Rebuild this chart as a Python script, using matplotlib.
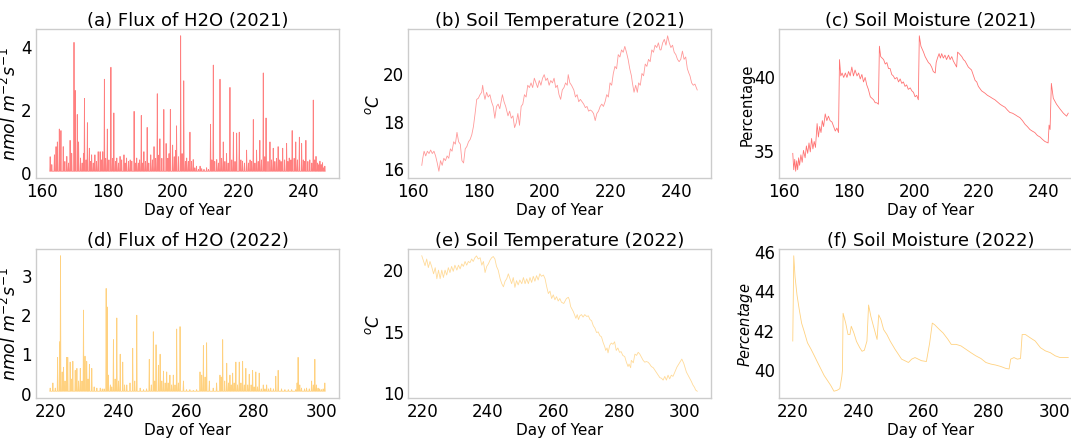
import numpy as np
import matplotlib
matplotlib.use("Agg")
import matplotlib.pyplot as plt

# ---------------- data ----------------
# (a) H2O flux 2021: spike days and peak values (nmol m-2 s-1)
flux21_day = [162.4, 162.9, 163.7, 164.2, 164.6, 165.2, 165.7, 166.4, 166.9, 167.5, 168.0, 168.5, 169.0,
              169.7, 170.1, 170.7, 171.1, 171.7, 172.2, 172.6, 172.9, 173.4, 173.8, 174.4, 174.8, 175.1,
              175.6, 176.1, 176.6, 177.1, 177.7, 178.1, 178.5, 179.0, 179.4, 179.9, 180.4, 181.0, 181.5,
              181.9, 182.4, 182.8, 183.3, 183.8, 184.3, 185.0, 185.4, 185.8, 186.4, 186.9, 187.4, 188.1,
              188.5, 188.9, 189.4, 189.8, 190.3, 190.7, 191.1, 191.6, 192.1, 192.6, 193.2, 193.7, 194.2,
              194.7, 195.2, 195.6, 196.0, 196.6, 197.2, 197.9, 198.4, 198.8, 199.2, 199.9, 200.4, 200.8,
              201.1, 201.7, 202.35, 202.8, 203.3, 203.8, 204.2, 204.7, 205.2, 205.7, 206.2, 206.7, 207.2,
              207.8, 208.3, 208.8, 209.5, 210.3, 210.9, 211.5, 211.9, 212.35, 212.8, 213.4, 213.9, 214.4,
              214.9, 215.4, 215.9, 216.4, 216.9, 217.45, 218.0, 218.5, 219.0, 219.5, 220.3, 220.8, 221.3,
              221.9, 222.55, 223.1, 223.6, 224.1, 224.6, 225.1, 225.6, 226.1, 226.6, 227.1, 227.65, 228.1,
              228.5, 229.1, 229.7, 230.2, 230.7, 231.2, 231.7, 232.2, 232.7, 233.1, 233.6, 234.2, 234.8,
              235.2, 235.6, 236.1, 236.5, 237.1, 237.6, 238.1, 238.7, 239.4, 239.9, 240.3, 240.7, 241.3,
              241.9, 242.5, 242.96, 243.4, 243.8, 244.3, 244.7, 245.0, 245.4, 245.8, 246.2, 246.5]
flux21_val = [0.50, 0.25, 0.56, 0.82, 0.97, 1.38, 1.33, 0.82, 0.35, 0.51, 0.30, 1.02, 0.61,
              4.13, 2.60, 1.84, 0.97, 0.46, 0.30, 0.61, 2.35, 0.40, 1.58, 0.77, 0.35, 0.56,
              0.30, 0.56, 0.35, 0.66, 0.66, 0.40, 0.66, 2.96, 0.45, 1.38, 0.40, 3.34, 0.45,
              1.89, 0.35, 0.46, 0.30, 0.51, 0.40, 0.56, 0.30, 0.46, 0.35, 0.40, 0.36, 1.94,
              0.30, 0.46, 0.30, 0.40, 1.81, 0.30, 0.66, 0.35, 1.43, 0.30, 0.56, 0.40, 0.82,
              0.45, 2.50, 0.55, 1.07, 0.45, 2.00, 0.92, 0.45, 0.60, 2.00, 0.87, 0.50, 0.70,
              1.48, 0.50, 4.34, 0.60, 2.91, 0.35, 0.46, 0.35, 1.28, 0.35, 0.41, 0.15, 0.20,
              0.10, 0.20, 0.12, 0.10, 0.15, 0.10, 1.53, 0.40, 3.41, 0.35, 0.41, 0.30, 2.96,
              0.45, 0.97, 0.35, 0.60, 0.30, 2.70, 0.40, 1.28, 0.35, 1.25, 1.28, 0.40, 0.36,
              0.30, 0.71, 0.30, 0.40, 0.35, 1.68, 0.30, 0.71, 0.35, 1.02, 0.40, 3.16, 0.50,
              1.73, 0.35, 0.97, 0.40, 0.77, 0.35, 0.45, 0.82, 0.40, 0.35, 0.77, 0.40, 0.92,
              0.35, 0.46, 0.40, 1.33, 0.45, 0.97, 0.40, 1.12, 0.92, 0.40, 0.35, 1.02, 0.35,
              0.40, 0.30, 2.30, 0.40, 0.51, 0.30, 0.25, 0.36, 0.25, 0.31, 0.15, 0.20]

# (d) H2O flux 2022
flux22_day = [219.8, 220.6, 221.3, 222.0, 222.6, 222.85, 223.35, 223.75, 224.2, 224.7, 225.0, 225.7,
              226.1, 226.5, 227.2, 227.7, 228.2, 228.7, 229.2, 229.65, 230.1, 230.6, 231.0, 231.4,
              232.1, 232.8, 233.6, 234.6, 235.2, 235.75, 236.35, 236.65, 237.0, 237.6, 238.0, 238.5,
              239.0, 239.5, 240.0, 240.5, 241.25, 241.8, 242.45, 243.4, 244.2, 244.8, 245.4, 246.4,
              247.4, 248.3, 249.1, 249.7, 250.3, 250.7, 251.1, 251.8, 252.3, 252.8, 253.3, 253.8,
              254.25, 254.7, 255.2, 255.7, 256.2, 256.7, 257.2, 257.7, 258.2, 259.2, 260.1, 261.1,
              262.1, 263.1, 264.1, 264.6, 265.1, 265.6, 266.05, 266.85, 268.0, 269.0, 270.0, 270.4,
              270.8, 271.4, 272.0, 272.5, 272.95, 273.35, 273.75, 274.2, 274.7, 275.2, 275.7, 276.2,
              276.7, 277.2, 277.65, 278.2, 278.65, 279.2, 279.65, 280.1, 280.6, 281.1, 281.6, 282.2,
              282.8, 283.3, 283.8, 284.4, 285.0, 285.8, 286.5, 287.2, 288.2, 289.2, 290.2, 291.2,
              292.4, 292.8, 293.1, 293.6, 294.1, 295.0, 295.6, 296.4, 297.1, 297.6, 298.05, 298.5,
              299.0, 299.5, 300.0, 300.5, 301.0]
flux22_val = [0.12, 0.25, 0.12, 0.90, 1.30, 3.48, 0.53, 0.65, 0.30, 0.90, 0.90, 0.78,
              0.35, 0.80, 0.57, 0.62, 0.30, 0.62, 0.30, 2.10, 0.93, 0.80, 0.35, 0.72,
              0.62, 0.15, 0.12, 0.12, 0.10, 0.10, 2.65, 2.18, 0.45, 0.20, 0.15, 1.35,
              0.35, 1.90, 0.30, 0.98, 0.78, 0.20, 0.20, 0.25, 1.13, 0.30, 1.97, 0.12,
              0.08, 0.10, 0.85, 0.20, 1.55, 0.30, 1.22, 0.70, 0.98, 0.30, 0.55, 0.25,
              0.53, 0.25, 0.45, 0.20, 0.45, 0.20, 1.62, 0.25, 1.68, 0.30, 0.08, 0.08,
              0.06, 0.08, 0.53, 0.45, 1.20, 0.40, 1.27, 0.30, 0.12, 0.25, 0.45, 0.40,
              1.35, 0.30, 0.75, 0.25, 0.45, 0.20, 0.50, 0.25, 0.78, 0.20, 0.78, 0.25,
              0.80, 0.20, 0.62, 0.20, 0.47, 0.20, 0.57, 0.15, 0.53, 0.15, 0.50, 0.10,
              0.20, 0.10, 0.20, 0.10, 0.12, 0.10, 0.42, 0.57, 0.10, 0.08, 0.08, 0.08,
              0.08, 0.25, 0.90, 0.20, 0.12, 0.10, 0.12, 0.10, 0.30, 0.20, 0.85, 0.20,
              0.12, 0.10, 0.08, 0.10, 0.25]

# (b) soil temperature 2021
temp21_day = [162.6, 162.9, 163.3, 163.8, 164.3, 164.8, 165.3, 165.8, 166.3, 166.8, 167.3, 167.8, 168.3,
              168.8, 169.3, 169.8, 170.3, 170.8, 171.3, 171.8, 172.3, 172.8, 173.3, 173.8, 174.3, 174.8,
              175.3, 175.8, 176.3, 176.8, 177.3, 177.8, 178.3, 178.8, 179.3, 179.8, 180.3, 180.8, 181.1,
              181.5, 181.8, 182.3, 182.8, 183.3, 183.8, 184.3, 184.8, 185.3, 185.8, 186.3, 187.1, 187.6,
              188.1, 188.8, 189.3, 189.8, 190.3, 190.8, 191.3, 191.8, 192.3, 192.8, 193.3, 193.8, 194.3,
              194.8, 195.3, 195.8, 196.3, 196.8, 197.3, 197.8, 198.3, 198.8, 199.3, 199.8, 200.3, 200.8,
              201.3, 201.8, 202.3, 202.8, 203.3, 203.8, 204.3, 204.8, 205.3, 205.8, 206.3, 206.8, 207.1,
              207.6, 208.1, 208.8, 209.3, 209.8, 210.3, 210.8, 211.3, 211.8, 212.3, 212.8, 213.3, 213.8,
              214.3, 214.8, 215.3, 215.8, 216.3, 216.8, 217.3, 217.8, 218.3, 218.8, 219.3, 219.8, 220.3,
              220.8, 221.3, 221.8, 222.3, 222.8, 223.3, 223.8, 224.3, 224.8, 225.3, 225.8, 226.3, 226.6,
              227.1, 227.6, 228.1, 228.5, 229.0, 229.5, 230.0, 230.5, 231.0, 231.5, 232.0, 232.5, 233.0,
              233.5, 234.0, 234.5, 235.0, 235.3, 235.8, 236.3, 236.8, 237.3, 237.8, 238.3, 238.8, 239.3,
              239.8, 240.3, 240.8, 241.3, 241.8, 242.3, 242.8, 243.3, 243.8, 244.1, 244.6, 245.1, 245.6,
              246.3]
temp21_val = [16.1, 16.4, 16.7, 16.5, 16.7, 16.6, 16.75, 16.6, 16.7, 16.5, 16.2, 15.85, 16.3,
              16.1, 16.4, 16.3, 16.5, 16.4, 16.8, 16.7, 17.1, 17.0, 17.5, 17.1, 17.0, 16.3,
              16.2, 16.8, 16.9, 17.1, 17.2, 17.4, 17.75, 18.3, 18.9, 18.95, 19.1, 19.2, 19.5,
              19.1, 18.9, 19.2, 19.0, 19.1, 18.8, 18.6, 18.1, 18.6, 18.7, 18.5, 19.1, 18.8,
              18.6, 18.2, 18.4, 18.1, 18.2, 17.7, 17.9, 18.3, 17.8, 18.6, 18.7, 19.1, 19.0,
              19.5, 19.4, 19.6, 19.4, 19.8, 19.6, 19.4, 19.7, 19.5, 19.8, 19.95, 19.7, 19.8,
              19.5, 19.7, 19.6, 19.8, 19.4, 19.5, 19.1, 18.9, 19.3, 19.4, 19.6, 19.5, 19.95,
              19.6, 19.5, 19.3, 19.0, 19.1, 18.8, 18.9, 18.8, 18.7, 18.55, 18.6, 18.4, 18.45,
              18.4, 18.3, 18.0, 18.3, 18.4, 18.6, 18.7, 18.6, 18.8, 19.1, 19.0, 19.6, 19.5,
              20.0, 20.3, 20.2, 20.8, 20.7, 21.0, 20.9, 21.15, 20.9, 20.6, 20.2, 19.9, 19.6,
              19.2, 19.5, 19.2, 19.6, 19.5, 20.0, 19.9, 20.4, 20.3, 20.6, 20.5, 21.0, 20.9,
              21.2, 21.1, 21.3, 21.0, 21.0, 21.3, 21.45, 21.2, 21.6, 21.3, 21.1, 21.2, 20.9,
              20.8, 20.6, 20.5, 20.6, 20.95, 20.6, 20.7, 20.2, 20.0, 19.9, 19.6, 19.5, 19.55,
              19.3]

# (c) soil moisture 2021
moist21_day = [162.6, 162.9, 163.2, 163.5, 163.8, 164.1, 164.4, 164.7, 165.1, 165.5, 165.9, 166.4, 166.8,
               167.2, 167.6, 168.0, 168.4, 168.8, 169.2, 169.6, 170.1, 170.5, 170.9, 171.3, 171.7, 172.1,
               172.6, 173.1, 173.6, 174.1, 174.7, 175.2, 175.7, 176.2, 176.7, 177.0, 177.4, 177.8, 178.3,
               178.8, 179.3, 179.8, 180.3, 180.8, 181.3, 181.8, 182.4, 182.9, 183.4, 183.9, 184.4, 184.9,
               185.4, 185.9, 186.5, 187.5, 188.0, 188.5, 189.0, 189.3, 189.7, 190.6, 191.1, 191.6, 192.1,
               192.6, 193.1, 193.6, 194.1, 194.7, 195.2, 195.7, 196.2, 196.7, 197.2, 197.7, 198.2, 198.8,
               199.3, 199.8, 200.3, 200.8, 201.3, 201.6, 202.1, 202.5, 202.9, 203.4, 203.9, 204.4, 204.9,
               205.4, 205.9, 206.5, 206.8, 207.2, 207.7, 208.1, 208.5, 209.0, 209.5, 210.0, 210.6, 211.1,
               211.6, 212.1, 212.6, 213.1, 213.4, 213.9, 214.7, 215.2, 215.7, 216.7, 217.7, 218.8, 219.3,
               219.8, 220.8, 221.8, 222.6, 223.4, 224.1, 224.9, 225.7, 226.5, 227.2, 228.0, 228.8, 229.5,
               230.3, 231.1, 231.8, 232.6, 233.4, 234.2, 234.9, 235.7, 236.4, 237.2, 238.0, 238.8, 239.5,
               240.3, 241.3, 241.6, 241.9, 242.3, 242.9, 243.9, 244.9, 246.0, 247.0, 247.5]
moist21_val = [34.8, 33.7, 34.4, 33.6, 34.3, 33.7, 34.5, 34.0, 34.7, 34.2, 35.0, 34.5, 35.3,
               34.8, 35.5, 34.9, 35.8, 35.1, 35.6, 35.2, 36.8, 35.9, 36.6, 36.2, 37.0, 36.6,
               37.45, 37.0, 37.3, 37.0, 36.9, 36.6, 36.3, 36.5, 36.2, 41.1, 40.0, 40.2, 39.9,
               40.2, 39.9, 40.3, 40.0, 40.6, 40.0, 40.4, 40.0, 40.2, 39.8, 40.1, 39.6, 39.9,
               39.4, 39.1, 38.6, 38.4, 38.2, 38.2, 38.1, 42.0, 41.3, 41.1, 40.8, 40.9, 40.5,
               40.5, 40.1, 40.0, 39.8, 39.9, 39.6, 39.8, 39.5, 39.6, 39.3, 39.4, 39.1, 39.2,
               39.0, 38.9, 38.6, 38.7, 38.4, 42.7, 42.0, 41.8, 41.6, 41.3, 41.1, 40.9, 40.8,
               40.6, 40.3, 40.2, 40.9, 41.2, 41.5, 41.2, 41.5, 41.2, 41.4, 41.1, 41.4, 41.1,
               41.3, 41.0, 40.8, 40.6, 41.6, 41.5, 41.3, 41.1, 41.0, 40.6, 40.4, 39.7, 39.6,
               39.3, 39.0, 38.85, 38.7, 38.6, 38.5, 38.4, 38.25, 38.1, 38.0, 37.9, 37.7, 37.55,
               37.5, 37.4, 37.3, 37.2, 37.0, 36.75, 36.6, 36.4, 36.3, 36.2, 36.0, 35.9, 35.75,
               35.6, 35.5, 36.7, 36.4, 39.5, 38.5, 38.1, 37.8, 37.5, 37.3, 37.5]

# (e) soil temperature 2022
temp22_day = [219.8, 220.3, 220.8, 221.3, 221.8, 222.3, 222.8, 223.4, 223.9, 224.4, 224.9, 225.4, 225.9,
              226.4, 226.9, 227.4, 227.9, 228.4, 228.9, 229.4, 229.9, 230.5, 231.0, 231.5, 232.0, 232.5,
              233.0, 233.5, 234.0, 234.5, 235.0, 235.5, 236.0, 236.5, 237.0, 237.6, 238.1, 238.6, 239.1,
              239.6, 240.1, 240.6, 241.1, 241.6, 242.1, 242.6, 243.1, 243.7, 244.2, 244.7, 245.2, 245.7,
              246.2, 246.7, 247.2, 247.7, 248.2, 248.7, 249.2, 249.7, 250.3, 250.8, 251.3, 251.8, 252.3,
              252.8, 253.3, 253.8, 254.3, 254.8, 255.3, 255.8, 256.3, 256.9, 257.4, 257.9, 258.4, 258.9,
              259.4, 259.9, 260.4, 260.9, 261.4, 261.9, 262.4, 263.1, 263.9, 264.5, 264.8, 265.2, 266.0,
              266.8, 267.2, 267.6, 268.0, 268.5, 269.0, 269.5, 270.1, 270.6, 271.1, 271.6, 272.1, 272.6,
              273.1, 273.6, 274.1, 274.6, 275.1, 275.6, 275.9, 276.3, 276.6, 277.1, 277.6, 278.1, 278.6,
              279.1, 279.6, 280.1, 280.6, 281.1, 281.7, 282.2, 282.7, 283.0, 283.5, 283.7, 284.3, 284.8,
              285.3, 285.8, 286.3, 286.8, 287.3, 287.8, 288.3, 288.8, 289.3, 289.8, 290.4, 290.9, 291.4,
              291.9, 292.4, 292.9, 293.4, 293.9, 294.4, 294.9, 295.4, 295.9, 296.4, 296.9, 297.6, 298.5,
              299.1, 299.7, 300.5, 301.0, 301.5, 302.0, 302.5, 303.0, 303.3, 303.8]
temp22_val = [21.06, 20.66, 20.26, 20.8, 20.1, 20.6, 20.2, 19.6, 20.1, 19.2, 19.9, 19.2, 19.9,
              19.3, 19.9, 19.5, 20.1, 19.7, 20.2, 19.8, 20.3, 19.9, 20.3, 20.0, 20.4, 20.2,
              20.6, 20.3, 20.6, 20.5, 20.8, 20.6, 20.9, 21.05, 20.8, 20.9, 20.3, 20.6, 19.7,
              20.2, 20.4, 20.7, 20.9, 21.0, 20.8, 20.2, 19.9, 19.2, 18.8, 18.55, 19.0, 19.2,
              19.6, 19.2, 18.8, 19.3, 18.5, 19.05, 18.7, 19.1, 18.8, 19.3, 18.8, 19.2, 18.8,
              19.3, 18.9, 19.4, 19.0, 19.45, 19.1, 19.6, 19.4, 19.5, 19.2, 18.55, 18.0, 18.2,
              17.6, 17.9, 17.5, 17.75, 17.4, 17.6, 17.3, 17.2, 17.6, 17.7, 17.5, 16.95, 16.55,
              16.0, 16.3, 15.9, 16.2, 16.3, 16.1, 16.3, 16.15, 16.2, 15.9, 15.8, 15.4, 15.2,
              14.85, 14.9, 14.6, 14.5, 14.05, 13.7, 13.4, 13.6, 13.2, 13.8, 14.0, 13.9, 14.1,
              13.4, 13.6, 13.25, 13.3, 13.0, 12.9, 12.45, 12.1, 12.3, 12.0, 12.6, 12.4, 13.1,
              13.0, 13.25, 13.1, 12.85, 12.6, 12.45, 12.5, 12.45, 12.3, 12.1, 12.0, 11.8, 11.6,
              11.4, 11.2, 11.15, 11.0, 11.3, 11.0, 11.4, 11.1, 11.4, 11.3, 11.6, 12.05, 12.45,
              12.7, 12.35, 11.65, 11.4, 11.15, 10.9, 10.6, 10.4, 10.2, 10.1]

# (f) soil moisture 2022
moist22_day = [220.0, 220.3, 220.7, 221.3, 222.0, 222.7, 223.5, 224.5, 225.6, 226.6, 227.6, 228.6, 229.6,
               230.6, 231.6, 232.6, 233.6, 234.4, 235.0, 235.2, 235.4, 236.2, 236.9, 237.5, 237.9, 238.7,
               239.5, 240.5, 241.2, 241.9, 242.7, 243.2, 243.9, 244.7, 245.8, 246.3, 247.0, 247.8, 248.8,
               249.8, 251.3, 252.3, 253.3, 254.3, 255.4, 256.4, 257.4, 258.4, 259.4, 260.9, 261.9, 262.7,
               263.4, 264.9, 266.0, 267.5, 268.5, 270.0, 271.5, 273.0, 274.5, 276.0, 277.6, 279.1, 280.6,
               282.1, 283.6, 285.2, 286.2, 286.7, 287.7, 288.7, 289.7, 290.2, 291.2, 292.7, 294.2, 295.8,
               297.3, 298.8, 300.3, 301.8, 303.3, 304.3]
moist22_val = [41.42, 45.75, 44.67, 43.75, 43.0, 42.33, 41.9, 41.33, 41.0, 40.67, 40.33, 40.0, 39.67,
               39.42, 39.17, 38.87, 38.92, 39.0, 39.6, 39.92, 42.83, 42.33, 41.75, 41.75, 42.17, 41.83,
               41.4, 41.08, 40.9, 40.95, 41.42, 43.25, 42.67, 42.17, 41.5, 42.75, 42.5, 42.0, 41.75,
               41.42, 41.0, 40.75, 40.5, 40.42, 40.33, 40.5, 40.58, 40.5, 40.42, 40.38, 41.33, 42.33,
               42.25, 42.0, 41.83, 41.5, 41.25, 41.25, 41.17, 41.0, 40.83, 40.67, 40.53, 40.33, 40.25,
               40.2, 40.13, 40.03, 40.0, 40.5, 40.58, 40.5, 40.53, 41.75, 41.75, 41.58, 41.42, 41.08,
               40.92, 40.83, 40.67, 40.58, 40.58, 40.58]

titles = ["(a) Flux of H2O (2021)", "(b) Soil Temperature (2021)", "(c) Soil Moisture (2021)",
          "(d) Flux of H2O (2022)", "(e) Soil Temperature (2022)", "(f) Soil Moisture (2022)"]
ylabels = [r"$nmol\ m^{-2}s^{-1}$", r"$^oC$", "Percentage",
           r"$nmol\ m^{-2}s^{-1}$", r"$^oC$", r"$Percentage$"]
xlabel = "Day of Year"
flux_base = 0.04
spike_halfwidth = 0.12

# ---------------- figure ----------------
W, H = 1071, 439
fig = plt.figure(figsize=(W / 100, H / 100), dpi=100)

lefts = [36, 408, 779]
tops = [30, 250]
aw, ah = 303, 149
label_x = [-0.052, -0.083, -0.079]
ylabel_sizes = [12.5, 12, 10.5, 12.5, 12, 10.5]

def spike_series(days, vals):
    d = np.asarray(days)
    v = np.asarray(vals)
    xs = np.column_stack([d - spike_halfwidth, d, d + spike_halfwidth]).ravel()
    ys = np.column_stack([np.full_like(v, flux_base), v, np.full_like(v, flux_base)]).ravel()
    return xs, ys

series = [
    (spike_series(flux21_day, flux21_val), "red", 0.5),
    ((temp21_day, temp21_val), "red", 0.4),
    ((moist21_day, moist21_val), "red", 0.55),
    (spike_series(flux22_day, flux22_val), "orange", 0.5),
    ((temp22_day, temp22_val), "orange", 0.4),
    ((moist22_day, moist22_val), "orange", 0.5),
]

for i, ((xs, ys), col, alp) in enumerate(series):
    r, c = divmod(i, 3)
    ax = fig.add_axes([lefts[c] / W, 1 - (tops[r] + ah) / H, aw / W, ah / H])
    ax.plot(xs, ys, color=col, alpha=alp, lw=0.6)
    ax.set_title(titles[i], fontsize=13, pad=3)
    ax.set_xlabel(xlabel, fontsize=11, labelpad=1)
    ax.set_ylabel(ylabels[i], fontsize=ylabel_sizes[i])
    ax.yaxis.set_label_coords(label_x[c], 0.5)
    ax.tick_params(length=0, labelsize=12, pad=3)
    for s in ax.spines.values():
        s.set_color("#cccccc")
        s.set_linewidth(1.0)
    ax.grid(False)

axes = fig.axes
axes[0].set_yticks([0, 2, 4])
axes[1].set_yticks([16, 18, 20])
axes[2].set_yticks([35, 40])
axes[3].set_yticks([0, 1, 2, 3])
axes[4].set_yticks([10, 15, 20])
axes[5].set_yticks([40, 42, 44, 46])
for ax in axes[:3]:
    ax.set_xticks([160, 180, 200, 220, 240])
for ax in axes[3:]:
    ax.set_xticks([220, 240, 260, 280, 300])

fig.savefig("out.png", dpi=100)
